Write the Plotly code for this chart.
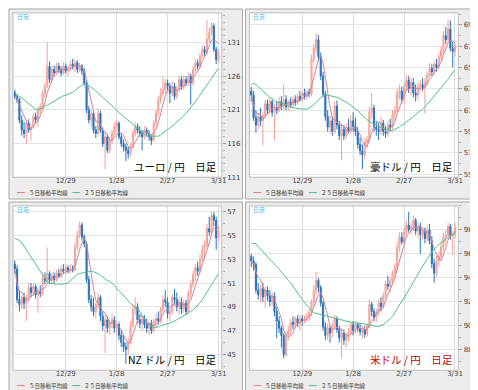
import plotly.graph_objects as go
import pandas as pd

W, H = 478, 390

dates = pd.bdate_range('2008-11-27', '2009-03-31').strftime('%Y-%m-%d').tolist()
tick_dates = ['2008-12-29', '2009-01-28', '2009-02-27', '2009-03-31']
tick_text = ['12/29', '1/28', '2/27', '3/31']

# ---------------- EUR/JPY ----------------
eur_open = [123.6,123.0,122.5,119.5,118.0,117.5,119.0,118.0,118.5,120.0,
            119.5,121.0,121.5,123.5,124.5,127.5,125.5,127.0,126.5,127.5,
            127.0,126.5,127.5,126.8,127.2,127.8,127.5,128.0,127.0,127.5,
            126.8,125.0,121.0,119.5,120.5,118.0,117.5,120.5,118.0,116.0,
            117.0,115.0,116.5,117.5,118.5,119.0,117.0,116.0,115.5,115.0,
            114.5,115.5,117.5,118.5,118.0,117.5,117.0,118.0,117.5,117.0,
            116.5,119.0,120.5,122.5,123.5,124.0,125.0,124.5,123.5,124.5,
            123.0,124.0,125.5,124.5,125.5,125.0,126.0,125.0,127.0,128.0,
            127.5,129.0,130.0,129.5,131.5,132.5,133.5,130.0,128.5]
eur_close = [123.0,122.5,119.5,118.0,117.5,119.0,118.0,118.5,120.0,119.5,
             121.0,121.5,123.5,124.5,127.5,125.5,127.0,126.5,127.5,127.0,
             126.5,127.5,126.8,127.2,127.8,127.5,128.0,127.0,127.5,126.8,
             125.0,121.0,119.5,120.5,118.0,117.5,120.5,118.0,116.0,117.0,
             115.0,116.5,117.5,118.5,119.0,117.0,116.0,115.5,115.0,114.5,
             115.5,117.5,118.5,118.0,117.5,117.0,118.0,117.5,117.0,116.5,
             119.0,120.5,122.5,123.5,124.0,125.0,124.5,123.5,124.5,123.0,
             124.0,125.5,124.5,125.5,125.0,126.0,125.0,127.0,128.0,127.5,
             129.0,130.0,129.5,131.5,132.5,133.5,130.0,128.5,129.5]
eur_high = [124.0,123.4,122.8,120.2,119.2,119.5,119.6,119.0,120.5,120.6,
            121.5,122.0,124.0,125.0,131.0,128.2,127.5,127.6,128.0,128.0,
            127.5,128.0,127.9,127.6,128.3,128.6,128.5,128.4,128.0,127.8,
            127.2,125.4,121.6,121.0,120.8,118.6,121.2,120.9,118.4,117.8,
            117.4,117.0,118.0,119.2,119.5,119.3,117.5,116.6,116.0,115.6,
            116.0,118.0,119.2,119.0,118.6,118.0,118.6,118.4,118.0,117.4,
            119.5,121.0,123.0,124.2,126.0,125.6,125.5,125.0,125.2,125.0,
            124.6,126.0,126.0,126.2,126.0,126.5,126.4,127.5,128.6,128.5,
            129.5,130.6,130.5,134.4,133.2,134.0,133.9,130.4,130.0]
eur_low = [122.6,122.0,119.0,117.2,116.8,116.0,117.6,116.5,118.2,119.0,
           118.5,120.5,121.2,122.8,124.2,125.0,125.2,126.0,126.2,126.5,
           126.0,126.2,126.4,126.0,126.8,127.0,126.6,126.5,126.6,126.2,
           124.6,120.5,119.0,118.5,117.5,116.8,117.2,117.6,115.5,112.2,
           114.6,114.5,116.0,117.0,117.8,116.6,115.5,114.8,113.4,113.8,
           114.0,115.2,117.0,117.5,117.0,115.0,116.6,117.0,116.4,115.8,
           116.2,118.6,120.2,122.0,123.0,123.4,123.8,122.0,123.0,122.5,
           122.6,123.6,124.0,124.0,124.5,124.6,121.8,124.6,126.6,127.0,
           127.2,128.6,129.0,129.2,131.0,132.0,129.6,127.8,128.0]
eur_ma25 = [123.3,123.2,123.0,122.8,122.5,122.2,121.9,121.6,121.3,121.1,
            121.0,121.1,121.3,121.5,121.7,121.9,122.1,122.3,122.6,122.8,
            123.0,123.1,123.2,123.3,123.4,123.6,123.9,124.2,124.5,124.8,
            125.0,124.8,124.6,124.4,124.1,123.8,123.5,123.2,122.9,122.6,
            122.3,122.0,121.6,121.3,121.0,120.6,120.3,120.0,119.7,119.4,
            119.1,118.8,118.5,118.2,117.9,117.6,117.4,117.2,117.1,117.1,
            117.1,117.1,117.1,117.3,117.6,117.9,118.1,118.3,118.6,118.9,
            119.2,119.4,119.8,120.1,120.5,120.9,121.3,121.7,122.2,122.7,
            123.2,123.7,124.2,124.7,125.3,125.8,126.3,126.8,127.2]
eur_ticks = [111, 116, 121, 126, 131]

# ---------------- AUD/JPY ----------------
aud_open = [62.8,62.4,60.3,59.6,60.4,60.0,60.5,61.6,61.0,61.8,
            60.8,61.2,61.0,61.8,61.4,62.0,61.3,61.8,61.5,62.0,
            61.7,62.3,62.0,62.6,62.3,62.7,62.5,65.8,66.8,67.6,
            66.0,64.2,62.5,60.4,59.4,60.0,59.0,61.4,59.6,58.6,
            59.2,58.6,59.4,59.0,60.0,59.5,59.0,57.8,57.2,56.8,
            58.0,58.2,60.8,61.2,59.4,59.2,59.0,59.8,59.0,58.8,
            59.6,59.4,60.6,61.0,62.6,62.8,62.0,63.2,63.8,63.0,
            63.6,62.6,62.4,63.2,63.4,63.1,63.6,64.3,64.9,64.6,
            65.3,65.0,66.0,66.6,68.0,67.6,68.6,66.8,66.5]
aud_close = [62.4,60.3,59.6,60.4,60.0,60.5,61.6,61.0,61.8,60.8,
             61.2,61.0,61.8,61.4,62.0,61.3,61.8,61.5,62.0,61.7,
             62.3,62.0,62.6,62.3,62.7,62.5,65.8,66.8,67.6,66.0,
             64.2,62.5,60.4,59.4,60.0,59.0,61.4,59.6,58.6,59.2,
             58.6,59.4,59.0,60.0,59.5,59.0,57.8,57.2,56.8,58.0,
             58.2,60.8,61.2,59.4,59.2,59.0,59.8,59.0,58.8,59.6,
             59.4,60.6,61.0,62.6,62.8,62.0,63.2,63.8,63.0,63.6,
             62.6,62.4,63.2,63.4,63.1,63.6,64.3,64.9,64.6,65.3,
             65.0,66.0,66.6,68.0,67.6,68.6,66.8,66.5,67.0]
aud_high = [63.2,62.8,61.0,60.8,61.2,60.8,62.0,62.0,62.2,62.0,
            61.6,61.8,62.2,62.3,63.4,62.4,62.0,62.2,62.3,62.4,
            62.6,62.8,62.8,63.0,62.9,63.0,66.2,67.2,68.2,68.0,
            66.4,64.6,62.8,61.0,60.5,60.4,61.8,61.9,60.0,59.8,
            59.6,59.8,60.2,60.5,60.8,60.3,59.4,58.4,57.8,58.4,
            58.6,61.3,62.6,61.5,60.0,59.8,60.4,60.1,59.5,60.0,
            60.2,61.0,61.4,63.0,63.4,63.2,63.6,64.3,64.2,64.0,
            64.0,63.4,63.6,63.8,64.0,64.0,64.6,65.4,65.3,65.6,
            65.8,66.4,67.0,68.4,68.8,69.5,69.4,67.4,67.4]
aud_low = [61.8,60.0,58.9,59.2,59.5,57.7,60.2,60.6,60.7,60.4,
           58.1,60.6,60.8,61.0,61.0,61.0,60.9,61.2,61.2,61.4,
           61.5,61.8,61.8,62.0,62.0,62.2,62.3,65.4,66.4,65.6,
           63.8,62.2,60.0,59.0,58.8,58.6,58.8,59.2,58.2,56.3,
           58.2,58.3,58.8,58.7,59.0,58.6,57.4,56.8,55.5,56.4,
           57.4,58.0,60.2,59.0,58.6,58.2,58.7,58.6,58.4,58.5,
           59.0,59.2,60.0,60.8,62.0,61.6,61.6,62.8,62.6,62.4,
           62.2,61.8,62.0,62.8,62.8,60.7,63.3,64.0,64.2,64.3,
           64.6,64.8,65.6,66.3,67.2,67.4,66.5,65.0,66.0]
aud_ma25 = [63.4,63.5,63.4,63.2,63.0,62.8,62.6,62.4,62.2,62.1,
            61.9,61.8,61.7,61.65,61.6,61.5,61.4,61.3,61.25,61.2,
            61.15,61.1,61.1,61.1,61.1,61.2,61.35,61.5,61.7,61.95,
            62.2,62.4,62.45,62.4,62.35,62.35,62.3,62.2,62.1,62.0,
            61.85,61.75,61.6,61.45,61.3,61.1,60.95,60.75,60.5,60.3,
            60.1,59.95,59.85,59.75,59.6,59.45,59.35,59.3,59.2,59.15,
            59.1,59.1,59.2,59.3,59.45,59.6,59.7,59.9,60.05,60.2,
            60.4,60.6,60.8,60.95,61.1,61.3,61.55,61.8,62.05,62.3,
            62.55,62.8,63.1,63.4,63.65,63.9,64.2,64.5,64.8]
aud_ticks = [55, 57, 59, 61, 63, 65, 67, 69]

# ---------------- NZD/JPY ----------------
nzd_open = [52.6,52.2,49.6,49.2,49.8,49.3,49.6,50.6,50.2,50.7,
            50.0,50.3,50.1,51.4,51.2,51.8,51.2,51.6,51.3,51.8,
            51.6,52.2,52.0,52.3,52.0,52.2,52.1,54.0,55.0,55.9,
            54.9,54.3,51.3,49.6,49.0,48.6,49.2,49.8,48.2,47.4,
            47.9,47.2,47.6,47.9,47.2,47.5,46.6,46.0,45.6,45.4,
            46.0,47.4,48.8,49.0,47.9,47.6,48.0,47.5,47.2,47.6,
            47.0,47.8,48.0,47.8,48.8,49.6,49.4,48.4,48.6,49.8,
            49.6,49.0,49.4,48.8,49.3,48.6,50.1,50.9,51.7,52.3,
            52.0,53.0,53.8,54.2,55.6,55.3,56.7,56.3,54.8]
nzd_close = [52.2,49.6,49.2,49.8,49.3,49.6,50.6,50.2,50.7,50.0,
             50.3,50.1,51.4,51.2,51.8,51.2,51.6,51.3,51.8,51.6,
             52.2,52.0,52.3,52.0,52.2,52.1,54.0,55.0,55.9,54.9,
             54.3,51.3,49.6,49.0,48.6,49.2,49.8,48.2,47.4,47.9,
             47.2,47.6,47.9,47.2,47.5,46.6,46.0,45.6,45.4,46.0,
             47.4,48.8,49.0,47.9,47.6,48.0,47.5,47.2,47.6,47.0,
             47.8,48.0,47.8,48.8,49.6,49.4,48.4,48.6,49.8,49.6,
             49.0,49.4,48.8,49.3,48.6,50.1,50.9,51.7,52.3,52.0,
             53.0,53.8,54.2,55.6,55.3,56.7,56.3,54.8,55.4]
nzd_high = [52.9,52.5,50.4,50.0,50.2,50.0,51.0,51.0,51.0,50.9,
            50.6,50.8,51.8,51.9,54.0,52.0,51.9,51.9,52.1,52.2,
            52.5,52.6,52.6,52.5,52.6,52.5,54.4,55.4,56.2,56.1,
            55.1,54.5,51.6,50.0,49.8,49.4,50.2,50.0,48.6,48.3,
            48.2,47.9,48.4,48.2,47.8,47.7,47.0,46.6,46.0,46.4,
            47.8,49.2,49.8,49.3,48.4,48.3,48.3,48.0,47.8,47.9,
            48.0,48.4,48.6,49.0,49.9,50.4,49.8,49.0,50.0,50.5,
            50.2,49.8,49.8,49.6,49.6,50.4,51.2,52.0,52.6,52.8,
            53.4,54.2,54.6,56.0,56.6,57.0,57.0,56.6,55.8]
nzd_low = [51.8,49.3,48.6,48.8,48.8,47.8,49.4,49.8,49.9,49.7,
           48.5,49.8,49.9,50.9,51.0,50.9,50.9,51.0,51.1,51.4,
           51.4,51.8,51.8,51.8,51.8,51.9,52.0,53.7,54.8,54.6,
           54.0,51.0,49.3,48.6,48.2,48.0,48.9,47.8,47.0,45.1,
           46.8,46.6,47.2,46.8,46.5,46.2,45.6,45.2,44.2,45.0,
           45.8,47.2,48.3,47.6,47.2,47.0,47.2,46.8,46.6,46.7,
           46.8,47.3,47.5,47.6,48.5,49.0,48.0,47.8,48.3,49.2,
           48.6,48.4,48.4,48.5,48.3,48.4,49.8,50.6,51.2,51.6,
           51.8,52.8,53.2,54.0,55.0,55.1,55.8,53.8,54.5]
nzd_ma25 = [54.75,54.7,54.6,54.4,54.1,53.8,53.5,53.1,52.8,52.5,
            52.2,51.9,51.6,51.3,51.1,51.0,50.95,50.9,50.9,50.9,
            50.9,50.9,50.95,51.0,51.2,51.4,51.6,51.75,51.8,51.85,
            51.85,51.95,52.0,52.0,51.95,51.9,51.8,51.65,51.5,51.35,
            51.2,51.15,51.0,50.8,50.55,50.35,50.15,50.0,49.75,49.5,
            49.3,49.1,48.95,48.85,48.6,48.3,48.0,47.7,47.5,47.35,
            47.25,47.25,47.3,47.4,47.45,47.5,47.55,47.6,47.7,47.8,
            47.9,48.0,48.1,48.2,48.35,48.5,48.6,48.75,48.9,49.1,
            49.35,49.6,49.9,50.2,50.5,50.85,51.2,51.5,51.8]
nzd_ticks = [45, 47, 49, 51, 53, 55, 57]

# ---------------- USD/JPY ----------------
usd_open = [95.8,95.4,95.1,93.0,92.6,93.1,92.4,93.0,92.5,92.0,
            92.5,91.2,90.4,89.8,89.2,87.6,89.2,89.6,90.3,90.1,
            90.6,90.2,90.6,90.4,90.7,90.8,91.1,92.0,93.0,93.8,
            93.2,91.9,89.9,89.2,89.8,89.4,90.0,90.6,89.7,89.0,
            89.4,88.8,89.1,89.5,90.1,89.6,90.1,89.8,89.5,89.7,
            89.3,90.0,91.8,91.2,90.7,91.1,91.9,91.6,92.5,93.5,
            93.3,93.8,94.4,94.9,96.6,97.4,97.0,97.8,98.4,98.0,
            98.3,98.8,97.9,98.3,97.6,97.9,97.3,98.0,97.1,95.2,
            94.4,95.4,95.8,96.6,97.4,97.6,98.3,97.5,97.6]
usd_close = [95.4,95.1,93.0,92.6,93.1,92.4,93.0,92.5,92.0,92.5,
             91.2,90.4,89.8,89.2,87.6,89.2,89.6,90.3,90.1,90.6,
             90.2,90.6,90.4,90.7,90.8,91.1,92.0,93.0,93.8,93.2,
             91.9,89.9,89.2,89.8,89.4,90.0,90.6,89.7,89.0,89.4,
             88.8,89.1,89.5,90.1,89.6,90.1,89.8,89.5,89.7,89.3,
             90.0,91.8,91.2,90.7,91.1,91.9,91.6,92.5,93.5,93.3,
             93.8,94.4,94.9,96.6,97.4,97.0,97.8,98.4,98.0,98.3,
             98.8,97.9,98.3,97.6,97.9,97.3,98.0,97.1,95.2,94.4,
             95.4,95.8,96.6,97.4,97.6,98.3,97.5,97.6,98.2]
usd_high = [96.0,95.8,95.3,93.6,93.4,93.6,93.3,93.3,93.0,92.8,
            92.8,91.6,90.8,90.0,89.4,89.6,90.0,90.6,90.8,90.8,
            90.9,90.9,90.9,90.9,91.1,91.4,92.2,93.4,94.5,94.0,
            93.4,92.1,90.3,90.2,90.0,90.3,90.9,90.8,90.0,89.8,
            89.7,89.4,89.8,90.3,90.4,90.4,90.3,90.2,90.0,90.0,
            90.2,92.2,92.0,91.5,91.4,92.2,92.4,92.8,93.8,94.2,
            94.0,94.6,95.2,97.0,97.8,97.8,98.2,98.8,99.5,98.6,
            99.2,99.0,98.6,98.6,98.2,98.2,98.4,98.5,97.5,95.6,
            95.8,96.2,97.0,97.8,98.0,98.6,98.5,97.9,98.6]
usd_low = [94.9,94.6,92.7,92.2,92.0,92.0,91.5,92.1,91.6,91.7,
           90.8,89.0,89.4,88.2,87.3,87.4,88.8,89.2,89.7,89.8,
           89.9,89.6,90.0,90.2,90.3,90.4,90.8,91.6,92.6,92.8,
           91.6,89.6,88.8,88.8,88.6,89.0,89.7,89.4,88.6,87.3,
           88.4,88.2,88.7,89.2,89.2,89.3,89.5,89.2,88.9,89.0,
           89.1,89.8,90.8,90.4,90.3,90.8,91.2,91.4,92.2,93.0,
           92.8,93.4,94.0,94.6,96.2,96.8,96.8,97.4,97.8,97.6,
           97.9,97.6,97.4,96.0,97.2,96.9,97.0,96.8,94.8,93.6,
           94.1,94.9,95.4,96.3,96.9,97.3,97.2,95.9,97.3]
usd_ma25 = [96.9,96.9,96.85,96.6,96.4,96.15,95.95,95.75,95.55,95.4,
            95.2,94.95,94.75,94.5,94.3,94.05,93.8,93.6,93.3,93.0,
            92.75,92.5,92.2,91.95,91.7,91.5,91.3,91.1,91.05,91.0,
            90.95,90.9,90.85,90.8,90.75,90.7,90.6,90.55,90.5,90.45,
            90.4,90.35,90.3,90.3,90.25,90.25,90.2,90.2,90.2,90.15,
            90.1,90.1,90.05,90.0,89.95,89.95,90.0,90.1,90.25,90.4,
            90.6,90.8,91.1,91.4,91.7,92.0,92.3,92.65,93.0,93.3,
            93.65,94.0,94.35,94.7,95.0,95.3,95.6,95.9,96.15,96.4,
            96.6,96.8,96.95,97.1,97.2,97.3,97.45,97.6,97.7]
usd_ticks = [88, 90, 92, 94, 96, 98]

labels = ['ユーロ / 円　日足', '豪ドル / 円　日足', 'NZ ドル / 円　日足', '米ドル / 円　日足']
legend_names = ['５日移動平均線', '２５日移動平均線']

panels = [
    dict(o=eur_open, h=eur_high, l=eur_low, c=eur_close, ma=eur_ma25, ticks=eur_ticks,
         yr=[111, 135.4], label=labels[0], lc='#000000', ox=0, oy=0),
    dict(o=aud_open, h=aud_high, l=aud_low, c=aud_close, ma=aud_ma25, ticks=aud_ticks,
         yr=[54.72, 70.1], label=labels[1], lc='#000000', ox=239, oy=0),
    dict(o=nzd_open, h=nzd_high, l=nzd_low, c=nzd_close, ma=nzd_ma25, ticks=nzd_ticks,
         yr=[43.65, 57.5], label=labels[2], lc='#000000', ox=0, oy=195),
    dict(o=usd_open, h=usd_high, l=usd_low, c=usd_close, ma=usd_ma25, ticks=usd_ticks,
         yr=[86.3, 100.0], label=labels[3], lc='#c00000', ox=239, oy=195),
]

FONT = 'Noto Sans CJK JP'
fig = go.Figure()
shapes = []
annotations = []
layout_axes = {}

def px(x):
    return x / W

def py(y):
    return 1 - y / H

for i, p in enumerate(panels):
    n = i + 1
    xa = 'x' if n == 1 else f'x{n}'
    ya = 'y' if n == 1 else f'y{n}'
    ox, oy = p['ox'], p['oy']

    fig.add_trace(go.Candlestick(
        x=dates, open=p['o'], high=p['h'], low=p['l'], close=p['c'],
        xaxis=xa, yaxis=ya, whiskerwidth=0, showlegend=False, hoverinfo='skip',
        increasing=dict(line=dict(color='#f2a096', width=1), fillcolor='#fbd3c6'),
        decreasing=dict(line=dict(color='#2a74bb', width=1), fillcolor='#2a74bb'),
    ))
    ma5 = pd.Series(p['c']).rolling(5, min_periods=1).mean().tolist()
    fig.add_trace(go.Scatter(x=dates, y=ma5, mode='lines', xaxis=xa, yaxis=ya,
                             line=dict(color='#d0849c', width=1), showlegend=False, hoverinfo='skip'))
    fig.add_trace(go.Scatter(x=dates, y=p['ma'], mode='lines', xaxis=xa, yaxis=ya,
                             line=dict(color='#4fc08a', width=1), showlegend=False, hoverinfo='skip'))

    # x axis floated a few pixels above the plot bottom so that its labels sit close to the frame
    layout_axes['xaxis' if n == 1 else f'xaxis{n}'] = dict(
        domain=[px(ox + 5), px(ox + 216)], anchor='free', position=py(oy + 168.5),
        type='category', range=[-0.8, 89.4], tickmode='array',
        tickvals=tick_dates, ticktext=tick_text,
        tickfont=dict(size=7, color='#444444', family='DejaVu Sans'),
        showgrid=True, gridcolor='#dadada', gridwidth=1, ticks='', zeroline=False,
        showline=False, rangeslider=dict(visible=False), fixedrange=True,
    )
    layout_axes['yaxis' if n == 1 else f'yaxis{n}'] = dict(
        domain=[py(oy + 171), py(oy + 5)], anchor=xa, side='right',
        range=p['yr'], tickmode='array', tickvals=p['ticks'],
        showgrid=True, gridcolor='#e3e3e3', gridwidth=1, zeroline=False,
        ticks='outside', ticklen=3, tickcolor='#999999',
        tickfont=dict(size=7, color='#444444', family='DejaVu Sans'),
        minor=dict(ticks='outside', ticklen=2, tickcolor='#aaaaaa', tickmode='linear',
                   tick0=0, dtick=1, showgrid=False),
        showline=False, fixedrange=True,
    )

    # panel background, plot area and plot frame
    shapes.append(dict(type='rect', xref='paper', yref='paper', layer='below',
                       x0=px(ox + 1), x1=px(ox + 237), y0=py(oy + 193), y1=py(oy + 1),
                       fillcolor='#ececec', line=dict(color='#a8a8a8', width=1)))
    shapes.append(dict(type='rect', xref='paper', yref='paper', layer='below',
                       x0=px(ox + 5), x1=px(ox + 216), y0=py(oy + 171), y1=py(oy + 5),
                       fillcolor='#ffffff', line=dict(width=0)))
    shapes.append(dict(type='rect', xref='paper', yref='paper', layer='above',
                       x0=px(ox + 5), x1=px(ox + 216), y0=py(oy + 171), y1=py(oy + 5),
                       line=dict(color='#bdbdbd', width=1)))
    # legend line samples
    shapes.append(dict(type='line', xref='paper', yref='paper',
                       x0=px(ox + 9), x1=px(ox + 17), y0=py(oy + 186.5), y1=py(oy + 186.5),
                       line=dict(color='#e08080', width=1)))
    shapes.append(dict(type='line', xref='paper', yref='paper',
                       x0=px(ox + 65), x1=px(ox + 73), y0=py(oy + 186.5), y1=py(oy + 186.5),
                       line=dict(color='#4fc08a', width=1)))
    annotations.append(dict(xref='paper', yref='paper', x=px(ox + 19), y=py(oy + 186.5),
                            text=legend_names[0], showarrow=False, xanchor='left', yanchor='middle',
                            font=dict(size=5.5, color='#333333', family=FONT)))
    annotations.append(dict(xref='paper', yref='paper', x=px(ox + 75), y=py(oy + 186.5),
                            text=legend_names[1], showarrow=False, xanchor='left', yanchor='middle',
                            font=dict(size=5.5, color='#333333', family=FONT)))
    # small corner label
    annotations.append(dict(xref='paper', yref='paper', x=px(ox + 7), y=py(oy + 9),
                            text='日足', showarrow=False, xanchor='left', yanchor='middle',
                            font=dict(size=6, color='#55b4ee', family=FONT)))
    # big title label
    annotations.append(dict(xref='paper', yref='paper', x=px(ox + 213), y=py(oy + 160),
                            text=p['label'], showarrow=False, xanchor='right', yanchor='middle',
                            font=dict(size=10.5, color=p['lc'], family=FONT)))

fig.update_layout(
    width=W, height=H, margin=dict(l=0, r=0, t=0, b=0),
    paper_bgcolor='#ffffff', plot_bgcolor='rgba(0,0,0,0)',
    showlegend=False, shapes=shapes, annotations=annotations,
    font=dict(family=FONT), **layout_axes,
)

fig.write_html('out.html')
